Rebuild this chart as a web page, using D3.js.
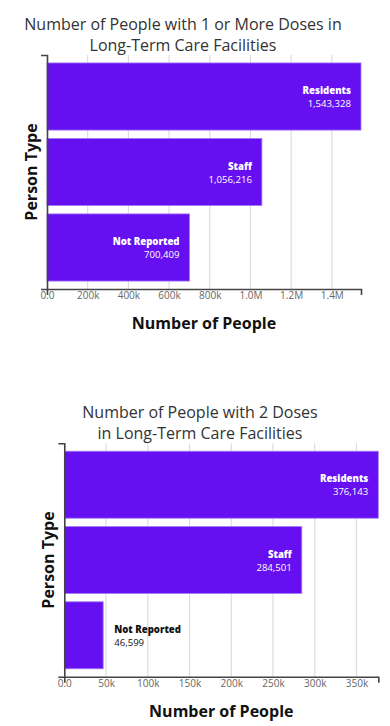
<!DOCTYPE html>
<html>
<head>
<meta charset="utf-8">
<script src="https://cdn.jsdelivr.net/npm/d3@7"></script>
<style>
  html, body { margin: 0; padding: 0; background: #fff; }
  svg { display: block; font-family: "Open Sans", "Noto Sans", sans-serif; }
</style>
</head>
<body>
<svg id="chart" width="390" height="726"></svg>
<script>
const categories = ["Residents", "Staff", "Not Reported"];
const oneDoseValues = [1543328, 1056216, 700409];
const twoDoseValues = [376143, 284501, 46599];
const oneDoseTicks = [0, 200000, 400000, 600000, 800000, 1000000, 1200000, 1400000];
const twoDoseTicks = [0, 50000, 100000, 150000, 200000, 250000, 300000, 350000];
const oneDoseTitle = ["Number of People with 1 or More Doses in", "Long-Term Care Facilities"];
const twoDoseTitle = ["Number of People with 2 Doses", "in Long-Term Care Facilities"];
const xAxisTitle = "Number of People";
const yAxisTitle = "Person Type";

const svg = d3.select("#chart");
const BAR = "#6610f2";
const fmtTick = d3.format(".2s");
const fmtVal = d3.format(",");

function drawChart(cfg) {
  const g = svg.append("g");
  const x = d3.scaleLinear().domain([0, d3.max(cfg.values)]).range([cfg.left, cfg.right]);
  const y = d3.scaleBand().domain(categories).range([cfg.top, cfg.bottom])
    .paddingInner(0.11).paddingOuter(0.105);

  // title (two separate lines)
  cfg.title.forEach((line, i) => {
    g.append("text").attr("text-anchor", "middle")
      .attr("font-size", 16).attr("fill", "#333")
      .attr("x", cfg.titleX).attr("y", cfg.titleY + i * 21.8).text(line);
  });

  // gridlines
  g.append("g").selectAll("line").data(cfg.ticks.filter(d => d > 0)).join("line")
    .attr("x1", d => x(d)).attr("x2", d => x(d))
    .attr("y1", cfg.top).attr("y2", cfg.bottom)
    .attr("stroke", "#dcdcdc").attr("stroke-width", 1.2);

  // bars
  g.append("g").selectAll("rect").data(categories).join("rect")
    .attr("x", x(0)).attr("y", d => y(d))
    .attr("width", (d, i) => x(cfg.values[i]) - x(0))
    .attr("height", y.bandwidth())
    .attr("fill", BAR).attr("stroke", "#a57df5").attr("stroke-width", 0.8);

  // labels
  categories.forEach((c, i) => {
    const v = cfg.values[i];
    const w = x(v) - x(0);
    const inside = w > 90;
    const cy = y(c) + y.bandwidth() / 2;
    const lx = inside ? x(v) - 10 : x(v) + 11;
    const anchor = inside ? "end" : "start";
    const col = inside ? "#fff" : "#111";
    g.append("text").attr("x", lx).attr("y", cy - 2.5).attr("text-anchor", anchor)
      .attr("font-size", 9.6).attr("font-weight", 800).attr("fill", col).text(c);
    g.append("text").attr("x", lx).attr("y", cy + 10.5).attr("text-anchor", anchor)
      .attr("font-size", 9.6).attr("fill", col).text(fmtVal(v));
  });

  // axes
  const xa = g.append("g").attr("transform", `translate(0,${cfg.bottom})`)
    .call(d3.axisBottom(x).tickValues(cfg.ticks).tickFormat(fmtTick).tickSizeInner(0).tickSizeOuter(6).tickPadding(3));
  xa.select(".domain").attr("stroke", "#444").attr("stroke-width", 1.6);
  xa.selectAll("text").attr("font-size", 10).attr("fill", "#666").attr("font-family", "Open Sans, sans-serif");

  const ya = g.append("g").attr("transform", `translate(${cfg.left},0)`)
    .call(d3.axisLeft(y).tickSizeInner(0).tickSizeOuter(6).tickFormat(""));
  ya.select(".domain").attr("stroke", "#444").attr("stroke-width", 1.6);

  // axis titles
  g.append("text").attr("x", (cfg.left + cfg.right) / 2).attr("y", cfg.bottom + 40)
    .attr("text-anchor", "middle").attr("font-size", 16).attr("font-weight", 700)
    .attr("fill", "#111").text(xAxisTitle);
  g.append("text")
    .attr("transform", `translate(${cfg.left - 10},${(cfg.top + cfg.bottom) / 2}) rotate(-90)`)
    .attr("text-anchor", "middle").attr("font-size", 16).attr("font-weight", 700)
    .attr("fill", "#111").text(yAxisTitle);
}

drawChart({
  values: oneDoseValues, ticks: oneDoseTicks, title: oneDoseTitle,
  left: 47, right: 361, top: 55, bottom: 289, titleX: 183, titleY: 29.5
});
drawChart({
  values: twoDoseValues, ticks: twoDoseTicks, title: twoDoseTitle,
  left: 64.3, right: 378.3, top: 443.3, bottom: 676.7, titleX: 200, titleY: 417.5
});
</script>
</body>
</html>
